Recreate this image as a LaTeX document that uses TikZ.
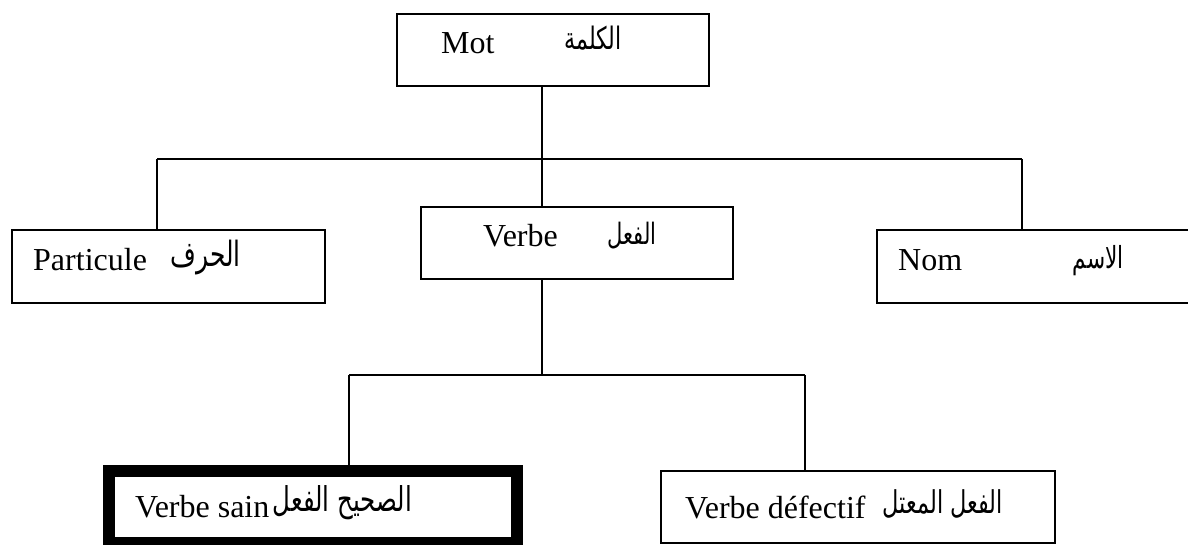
\documentclass[tikz,border=0pt]{standalone}
\usepackage{fontspec}
\usepackage{graphicx}
\setmainfont{Liberation Serif}
\newfontfamily\arabicfont[Script=Arabic]{DejaVu Sans}
\TeXXeTstate=1
% Arabic text scaled to a given width, slightly taller to suit the serif labels
\newcommand{\arword}[2]{\scalebox{1}[1.4]{\resizebox{#1pt}{!}{\arabicfont #2}}}

\begin{document}
\begin{tikzpicture}[x=1pt,y=-1pt,
  box/.style={draw, line width=2pt, rectangle, outer sep=0pt, inner sep=0pt, anchor=north west},
  heavybox/.style={box, line width=12pt},
  lat/.style={inner sep=0pt, anchor=base west, font=\fontsize{32}{38}\selectfont},
  arb/.style={inner sep=0pt, anchor=base east},
  link/.style={line width=2pt}]

\clip (0,0) rectangle (1188,545);
\fill[white] (0,0) rectangle (1188,545);

% boxes
\node[box, minimum width=312pt, minimum height=72pt] (mot) at (397,14) {};
\node[box, minimum width=313pt, minimum height=73pt] (part) at (12,230) {};
\node[box, minimum width=312pt, minimum height=72pt] (verbe) at (421,207) {};
\node[box, minimum width=340pt, minimum height=73pt] (nom) at (877,230) {};
\node[heavybox, minimum width=408pt, minimum height=72pt] (sain) at (109,471) {};
\node[box, minimum width=394pt, minimum height=72pt] (def) at (661,471) {};

% labels
\node[lat] (motL) at (441,54) {Mot};
\node[arb] (motA) at (622,50) {\arword{57}{\beginR الكلمة\endR}};
\node[lat] (partL) at (33,270) {Particule};
\node[arb] (partA) at (241,266) {\arword{70}{\beginR الحرف\endR}};
\node[lat] (verbeL) at (483,247) {Verbe};
\node[arb] (verbeA) at (657,244) {\arword{49}{\beginR الفعل\endR}};
\node[lat] (nomL) at (898,270) {Nom};
\node[arb] (nomA) at (1124,268) {\arword{51}{\beginR الاسم\endR}};
\node[lat] (sainL) at (135,517) {Verbe sain};
\node[arb] (sainA) at (412,511) {\arword{139}{\beginR الصحيح الفعل\endR}};
\node[lat] (defL) at (685,518) {Verbe défectif};
\node[arb] (defA) at (1003,513) {\arword{120}{\beginR الفعل المعتل\endR}};

% first level connectors
\coordinate (bus1) at (542,159);
\coordinate (pL) at (157,159);
\coordinate (pR) at (1022,159);
\draw[link] (mot.south -| bus1) -- (bus1);
\draw[link] (pL) -- (pR);
\draw[link] (pL) -- (pL |- part.north);
\draw[link] (bus1) -- (bus1 |- verbe.north);
\draw[link] (pR) -- (pR |- nom.north);

% second level connectors
\coordinate (bus2) at (542,375);
\coordinate (qL) at (349,375);
\coordinate (qR) at (805,375);
\draw[link] (verbe.south -| bus2) -- (bus2);
\draw[link] (qL) -- (qR);
\draw[link] (qL) -- (qL |- sain.north);
\draw[link] (qR) -- (qR |- def.north);
\end{tikzpicture}
\end{document}
